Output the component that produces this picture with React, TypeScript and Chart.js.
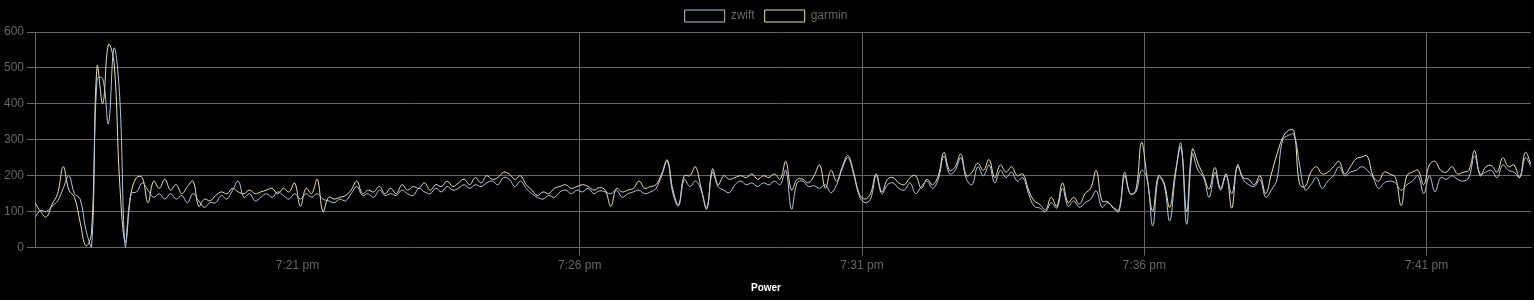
import React, { useEffect, useRef } from "react";
import { Chart, registerables } from "chart.js";

Chart.register(...registerables);

// seconds after 7:00 pm of the first sample, and sample spacing (s)
const startSeconds = 981;
const sampleSeconds = 6;

const zwift: number[] = [
  85, 103, 100, 115, 130, 165, 200, 150, 135, 50,
  0, 470, 470, 345, 555, 420, 0, 150, 155, 180,
  160, 140, 150, 135, 150, 135, 145, 125, 150, 130,
  112, 125, 125, 145, 135, 160, 185, 140, 150, 130,
  140, 150, 140, 155, 145, 135, 150, 135, 150, 140,
  150, 135, 130, 125, 135, 130, 150, 170, 145, 150,
  140, 160, 145, 150, 145, 160, 150, 145, 165, 155,
  150, 165, 155, 170, 160, 165, 175, 165, 175, 170,
  180, 185, 175, 195, 190, 170, 185, 165, 150, 140,
  135, 145, 140, 155, 160, 150, 160, 155, 165, 150,
  158, 155, 150, 160, 140, 150, 155, 160, 150, 155,
  165, 200, 240, 150, 116, 190, 170, 185, 160, 107,
  210, 170, 160, 153, 175, 185, 175, 180, 170, 180,
  175, 185, 175, 215, 107, 180, 185, 170, 172, 165,
  175, 153, 175, 220, 250, 205, 145, 125, 135, 200,
  150, 175, 180, 165, 160, 180, 150, 170, 185, 165,
  190, 255, 205, 215, 250, 190, 175, 225, 200, 230,
  180, 215, 195, 210, 185, 195, 150, 115, 110, 100,
  125, 110, 165, 115, 130, 112, 125, 135, 158, 112,
  125, 110, 100, 200, 150, 155, 215, 190, 60, 195,
  175, 74, 200, 290, 65, 260, 215, 195, 140, 209,
  160, 200, 150, 225, 190, 175, 170, 190, 140, 160,
  190, 300, 312, 315, 230, 160, 175, 195, 165, 185,
  200, 225, 200, 210, 215, 225, 215, 195, 165, 180,
  185, 180, 160, 175, 185, 200, 150, 200, 155, 195,
  190, 200, 190, 185, 195, 256, 205, 210, 215, 195,
  230, 215, 210, 195, 250, 225,
];

const garmin: number[] = [
  125, 100, 85, 120, 150, 225, 160, 140, 70, 5,
  40, 505, 400, 565, 515, 180, 15, 150, 195, 195,
  125, 185, 165, 190, 160, 175, 150, 170, 185, 115,
  135, 130, 145, 155, 150, 165, 155, 150, 160, 150,
  155, 160, 165, 150, 165, 155, 180, 115, 165, 150,
  190, 100, 140, 135, 140, 145, 160, 185, 150, 160,
  155, 170, 150, 165, 150, 175, 160, 170, 165, 180,
  160, 175, 170, 185, 170, 180, 190, 175, 195, 180,
  200, 190, 195, 210, 205, 190, 200, 175, 160, 145,
  155, 150, 165, 170, 175, 165, 170, 175, 170, 160,
  167, 160, 115, 165, 155, 160, 165, 185, 165, 170,
  175, 205, 244, 160, 120, 200, 200, 225, 165, 110,
  219, 175, 200, 190, 195, 200, 195, 205, 190, 200,
  195, 205, 190, 240, 160, 190, 190, 180, 200, 230,
  165, 215, 185, 225, 256, 210, 150, 135, 150, 205,
  155, 190, 195, 180, 175, 195, 200, 165, 190, 175,
  200, 265, 215, 225, 260, 200, 210, 235, 215, 245,
  195, 230, 210, 225, 200, 205, 160, 130, 120, 105,
  140, 115, 180, 125, 140, 121, 150, 165, 214, 130,
  128, 112, 105, 209, 150, 160, 293, 195, 102, 200,
  180, 112, 210, 279, 100, 274, 235, 200, 163, 223,
  165, 205, 110, 230, 195, 190, 175, 200, 150, 205,
  260, 305, 326, 325, 177, 170, 210, 225, 205, 210,
  225, 240, 205, 225, 247, 252, 255, 200, 185, 210,
  205, 195, 117, 200, 210, 215, 175, 230, 240, 215,
  210, 225, 205, 210, 215, 270, 200, 225, 228, 210,
  250, 225, 230, 195, 265, 232,
];

// x tick positions (seconds after 7:00 pm): 7:21, 7:26, 7:31, 7:36, 7:41
const xTickSeconds: number[] = [1260, 1560, 1860, 2160, 2460];
const yTicks: number[] = [0, 100, 200, 300, 400, 500, 600];

function fmtTime(s: number): string {
  const h24 = 19 + Math.floor(s / 3600);
  const m = Math.floor((s % 3600) / 60);
  const h12 = h24 % 12 === 0 ? 12 : h24 % 12;
  return `${h12}:${m < 10 ? "0" + m : m} ${h24 >= 12 ? "pm" : "am"}`;
}

const GRID = "#666";

export default function App() {
  const ref = useRef<HTMLCanvasElement | null>(null);

  useEffect(() => {
    if (!ref.current) return;
    const toPts = (arr: number[]) =>
      arr.map((v, i) => ({ x: startSeconds + i * sampleSeconds, y: v }));
    const lastX = startSeconds + (zwift.length - 1) * sampleSeconds;
    const chart = new Chart(ref.current, {
      type: "line",
      data: {
        datasets: [
          {
            label: "zwift",
            data: toPts(zwift),
            borderColor: "rgb(176,198,226)",
            backgroundColor: "rgba(0,0,0,0)",
            borderWidth: 1,
            pointRadius: 0,
            tension: 0.4,
          },
          {
            label: "garmin",
            data: toPts(garmin),
            borderColor: "rgb(236,222,178)",
            backgroundColor: "rgba(0,0,0,0)",
            borderWidth: 1,
            pointRadius: 0,
            tension: 0.4,
          },
        ],
      },
      options: {
        animation: false,
        responsive: false,
        layout: { padding: { left: 1, right: 3 } },
        plugins: {
          legend: {
            position: "top",
            labels: { color: "#666", font: { size: 12 } },
          },
          title: {
            display: true,
            text: "Power",
            position: "bottom",
            color: "#fff",
            font: { size: 10, weight: "bold" },
            padding: { top: 6, bottom: 6 },
          },
          tooltip: { enabled: false },
        },
        scales: {
          x: {
            type: "linear",
            min: startSeconds,
            max: lastX,
            afterBuildTicks: (axis: any) => {
              axis.ticks = xTickSeconds.map((v) => ({ value: v }));
            },
            ticks: {
              color: "#666",
              autoSkip: false,
              maxRotation: 0,
              callback: (v: any) => fmtTime(Number(v)),
            },
            grid: {
              color: (ctx: any) =>
                ctx.tick && ctx.tick.value === xTickSeconds[0] ? "rgba(0,0,0,0)" : GRID,
            },
            border: { color: GRID },
          },
          y: {
            min: yTicks[0],
            max: yTicks[yTicks.length - 1],
            ticks: { stepSize: 100, color: "#666" },
            grid: { color: GRID },
            border: { color: GRID },
          },
        },
      },
    });
    return () => chart.destroy();
  }, []);

  return (
    <div
      style={{
        position: "fixed",
        left: 0,
        top: 0,
        width: 1534,
        height: 300,
        background: "#000",
      }}
    >
      <canvas ref={ref} width={1534} height={300} style={{ display: "block" }} />
    </div>
  );
}
